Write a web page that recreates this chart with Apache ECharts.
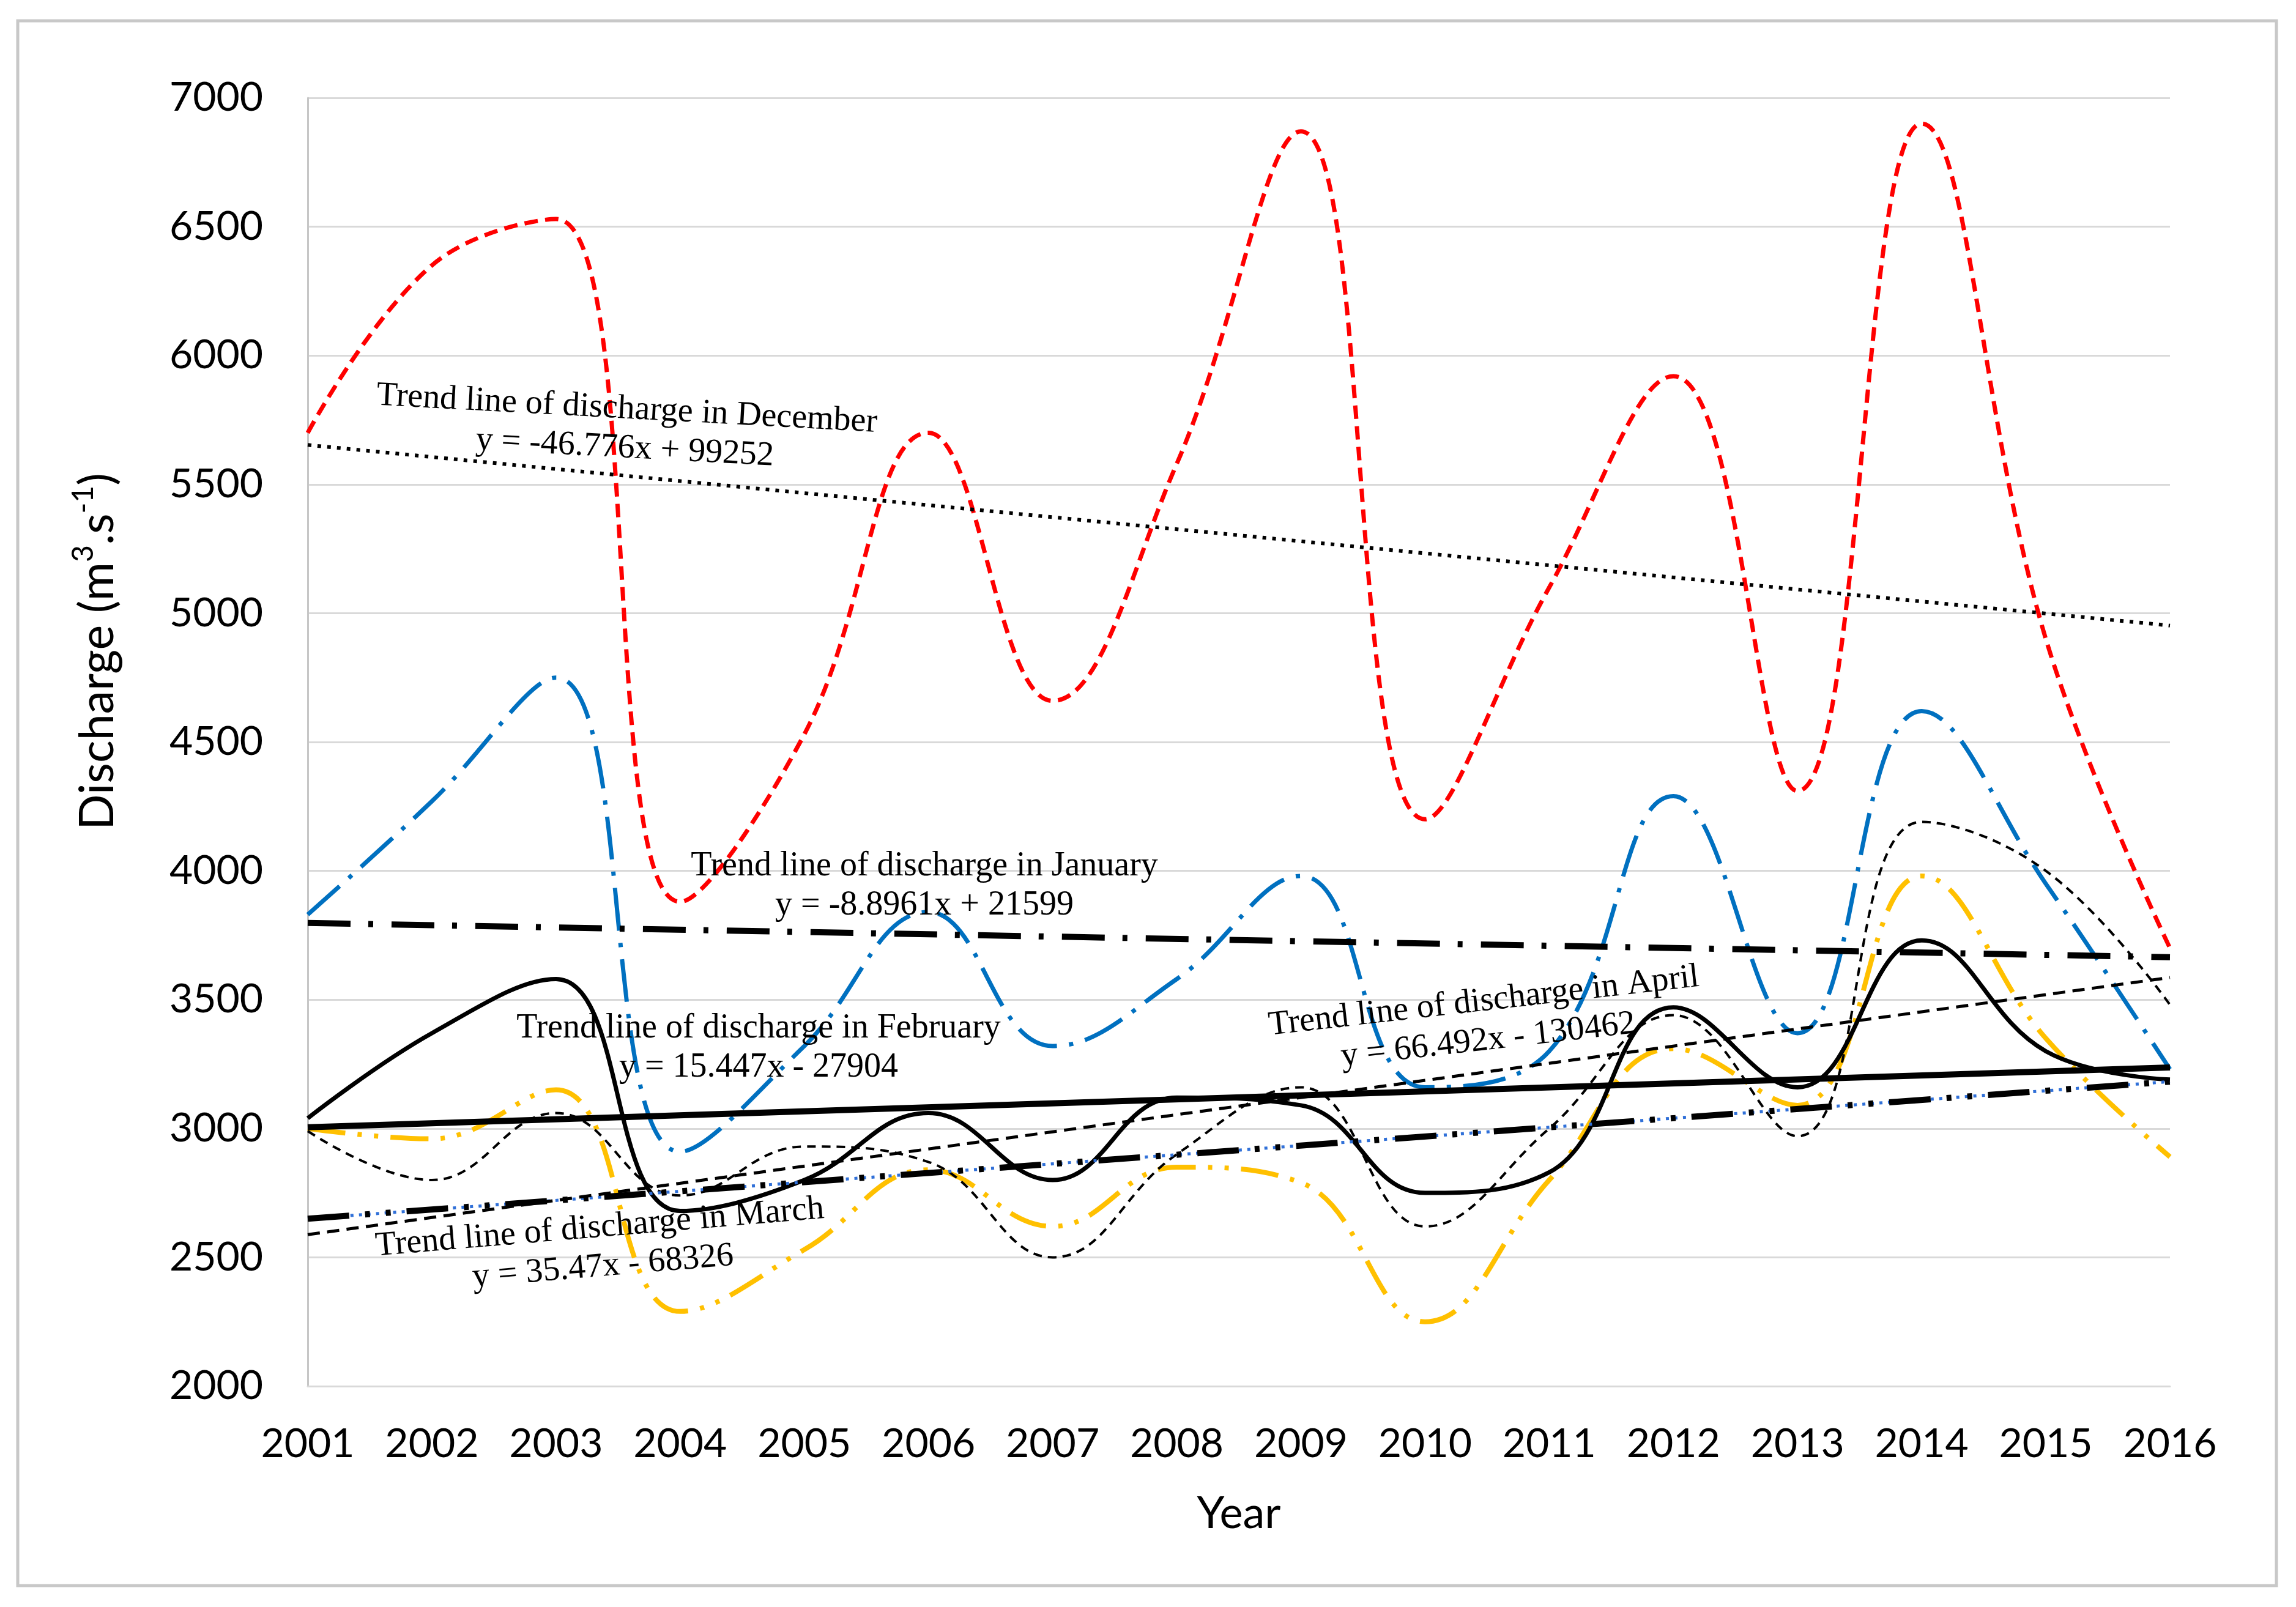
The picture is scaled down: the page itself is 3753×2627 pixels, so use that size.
<!DOCTYPE html>
<html>
<head>
<meta charset="utf-8">
<script src="https://cdn.jsdelivr.net/npm/echarts@6/dist/echarts.min.js"></script>
<style>
html,body{margin:0;padding:0;background:#ffffff;}
#chart{width:3753px;height:2627px;}
</style>
</head>
<body>
<div id="chart"></div>
<script>
// ---- data ----
const years = [2001,2002,2003,2004,2005,2006,2007,2008,2009,2010,2011,2012,2013,2014,2015,2016];
const december = [5700,6350,6530,3880,4530,5700,4660,5580,6870,4200,5100,5920,4310,6900,4900,3700];
const january  = [3830,4270,4750,2910,3320,3840,3320,3580,3980,3160,3300,4290,3370,4620,3950,3230];
const february = [3040,3370,3580,2680,2800,3060,2800,3120,3090,2750,2830,3470,3160,3730,3300,3190];
const march    = [3000,2960,3150,2290,2530,2840,2620,2850,2790,2250,2800,3310,3090,3980,3350,2890];
const april    = [2990,2800,3060,2740,2930,2870,2500,2900,3160,2620,3000,3440,2970,4190,4000,3480];

// trend line end values (2001, 2016)
const trendYears = [2001, 2016];
const trendDecember = [5653, 4952];
const trendJanuary  = [3798, 3665];
const trendFebruary = [3005, 3237];
const trendMarch    = [2650, 3182];
const trendApril    = [2588, 3586];

const trendLabels = [
  'Trend line of discharge in December\ny = -46.776x + 99252',
  'Trend line of discharge in January\ny = -8.8961x + 21599',
  'Trend line of discharge in February\ny = 15.447x - 27904',
  'Trend line of discharge in March\ny = 35.47x - 68326',
  'Trend line of discharge in April\ny = 66.492x - 130462'
];
const xAxisTitle = 'Year';
const yAxisTitleRich = '{a|Discharge (m}{s|3}{a|.s}{s|-1}{a|)}';

// ---- layout (not data) ----
const labelLayout = [
  {x: 1023, y: 701,  rot: -3.1},
  {x: 1511, y: 1448, rot: 0},
  {x: 1240, y: 1713, rot: 0},
  {x: 983,  y: 2039, rot: 4.8},
  {x: 2429, y: 1669, rot: 6.5}
];

const pairs = (xs, ys) => xs.map((x, i) => [x, ys[i]]);

function line(name, xs, ys, color, width, dash, smooth, z) {
  return {
    name: name,
    type: 'line',
    data: pairs(xs, ys),
    smooth: smooth,
    symbol: 'none',
    showSymbol: false,
    z: z || 2,
    lineStyle: {color: color, width: width, type: dash, cap: 'butt', join: 'round'},
    emphasis: {disabled: true},
    animation: false
  };
}

const SM = 0.42;
const series = [
  line('December', years, december, '#FF0000', 7, [22, 12], SM, 3),
  line('January', years, january, '#0070C0', 7, [70, 20, 7, 20], SM, 3),
  line('March', years, march, '#FFC000', 8, [62, 20, 7, 20, 7, 20], SM, 3),
  line('April', years, april, '#000000', 4, [14, 10], SM, 3),
  line('February', years, february, '#000000', 7, 'solid', SM, 4),
  line('Trend December', trendYears, trendDecember, '#000000', 6, [6, 10], false, 5),
  line('Trend January', trendYears, trendJanuary, '#000000', 10, [70, 29, 8, 30], false, 5),
  line('Trend February', trendYears, trendFebruary, '#000000', 10, 'solid', false, 5),
  line('Trend March dots', trendYears, trendMarch, '#3070D8', 5, [5, 9], false, 5),
  line('Trend March', trendYears, trendMarch, '#000000', 10, [68, 26, 8, 26, 8, 26], false, 6),
  line('Trend April', trendYears, trendApril, '#000000', 5, [20, 12], false, 5)
];

const graphics = [
  {type: 'rect', z: 0, silent: true,
   shape: {x: 29, y: 34, width: 3692, height: 2558},
   style: {fill: 'none', stroke: '#C8C8C8', lineWidth: 5}},
  {type: 'text', z: 50, x: 160, y: 1065, rotation: Math.PI / 2,
   style: {text: yAxisTitleRich, align: 'center', verticalAlign: 'middle',
           textAlign: 'center', textVerticalAlign: 'middle',
           rich: {
             a: {fontSize: 77, fontFamily: 'Lato', fill: '#000000', lineHeight: 94},
             s: {fontSize: 48, fontFamily: 'Lato', fill: '#000000', lineHeight: 42, verticalAlign: 'top'}
           }}},
  {type: 'text', z: 50, x: 2025, y: 2475,
   style: {text: xAxisTitle, font: '72px Lato', fill: '#000000',
           align: 'center', verticalAlign: 'middle', textAlign: 'center', textVerticalAlign: 'middle'}}
];
trendLabels.forEach((t, i) => {
  const L = labelLayout[i];
  graphics.push({
    type: 'text', z: 100, x: L.x, y: L.y, rotation: L.rot * Math.PI / 180,
    style: {text: t, font: '56px "Liberation Serif"', fill: '#000000', lineHeight: 64,
            align: 'center', verticalAlign: 'middle', textAlign: 'center', textVerticalAlign: 'middle'}
  });
});

const chart = echarts.init(document.getElementById('chart'), null, {renderer: 'canvas'});
chart.setOption({
  animation: false,
  backgroundColor: '#ffffff',
  grid: {left: 503, right: 206, top: 160, bottom: 361, containLabel: false},
  xAxis: {
    type: 'value', min: 2001, max: 2016, interval: 1,
    axisLine: {show: true, lineStyle: {color: '#D9D9D9', width: 3}},
    axisTick: {show: false},
    splitLine: {show: false},
    axisLabel: {show: true, margin: 62, fontSize: 66, fontFamily: 'Lato', color: '#000000',
                formatter: v => String(v), showMinLabel: true, showMaxLabel: true, hideOverlap: false}
  },
  yAxis: {
    type: 'value', min: 2000, max: 7000, interval: 500,
    axisLine: {show: true, lineStyle: {color: '#C6C6C6', width: 3}},
    axisTick: {show: false},
    splitLine: {show: true, lineStyle: {color: '#D9D9D9', width: 3}},
    axisLabel: {show: true, margin: 73, fontSize: 66, fontFamily: 'Lato', color: '#000000',
                formatter: v => String(v)}
  },
  series: series,
  graphic: {elements: graphics}
});
</script>
</body>
</html>
